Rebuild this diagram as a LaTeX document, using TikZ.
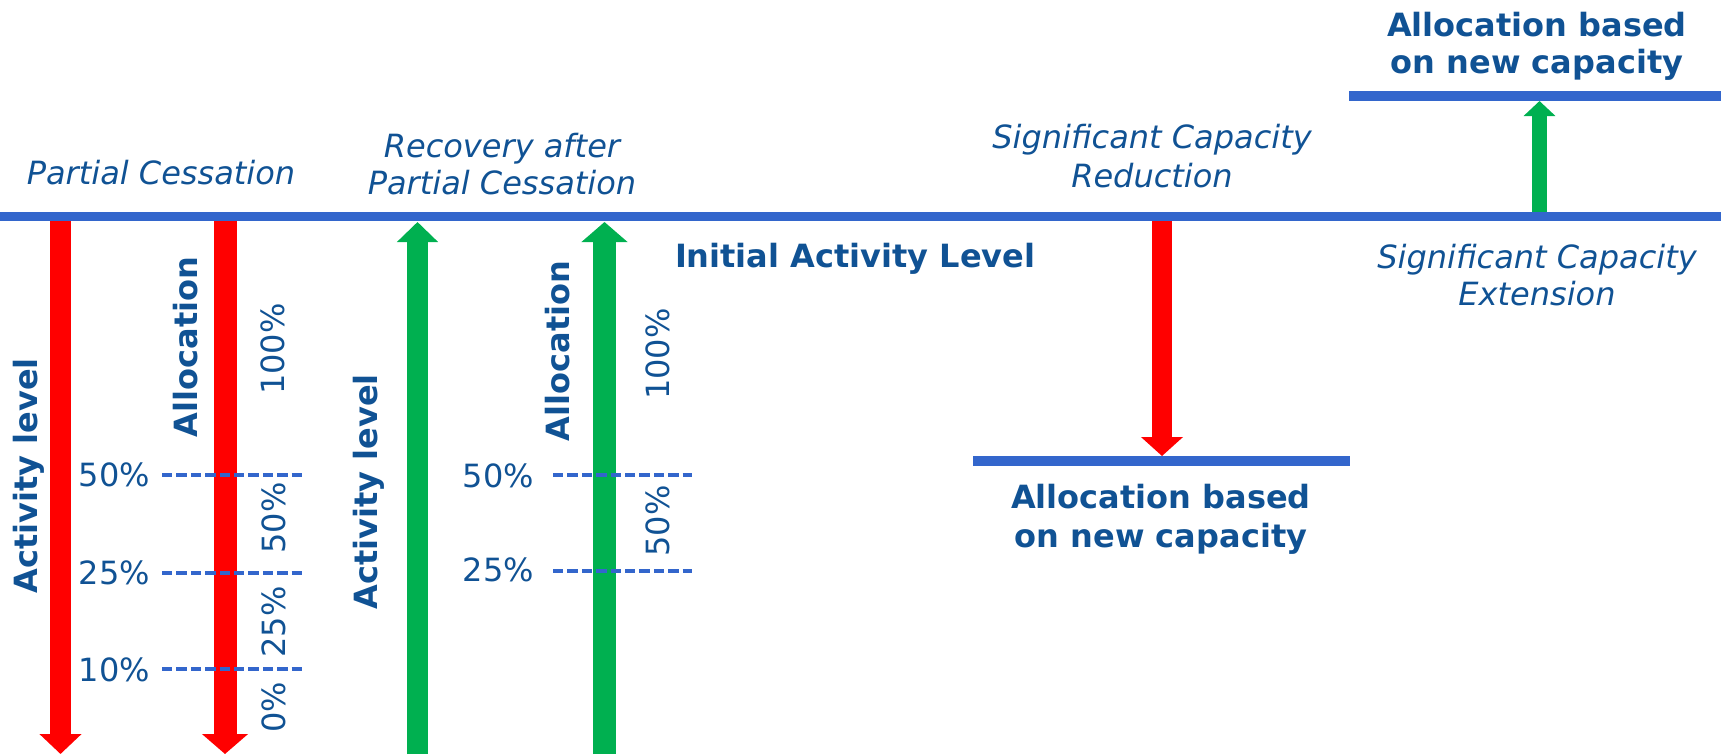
\documentclass[tikz,border=0pt]{standalone}
\usepackage{fontspec}
\setmainfont{DejaVu Sans}
\usetikzlibrary{arrows.meta}
\definecolor{txtblue}{RGB}{16,82,148}
\definecolor{lineblue}{RGB}{51,102,204}
\definecolor{arrred}{RGB}{255,0,0}
\definecolor{arrgreen}{RGB}{0,176,80}
\tikzset{
  txt/.style={inner sep=0pt, outer sep=0pt, text=txtblue, font=\fontsize{24}{28}\selectfont},
  ital/.style={txt, font=\fontsize{24}{28}\selectfont\itshape, align=center, anchor=base},
  bold/.style={txt, font=\fontsize{24}{28}\selectfont\bfseries, align=center, anchor=base},
  vbold/.style={bold, rotate=90, anchor=base},
  vpct/.style={txt, rotate=90, anchor=base},
  pct/.style={txt, anchor=base east},
  level/.style={draw=lineblue, line width=7pt},
  dashline/.style={draw=lineblue, line width=3pt, dash pattern=on 7.8pt off 3pt},
  redA/.style={draw=arrred, line width=15.75pt, -{Triangle[width=30.75pt,length=15pt]}, arrred},
  redB/.style={draw=arrred, line width=17.25pt, -{Triangle[width=33.75pt,length=15pt]}, arrred},
  greenA/.style={draw=arrgreen, line width=15.75pt, -{Triangle[width=30pt,length=15pt]}, arrgreen},
  greenB/.style={draw=arrgreen, line width=17.25pt, -{Triangle[width=33.75pt,length=15pt]}, arrgreen},
  redC/.style={draw=arrred, line width=15pt, -{Triangle[width=30.75pt,length=14.25pt]}, arrred},
  greenC/.style={draw=arrgreen, line width=11.25pt, -{Triangle[width=23.25pt,length=11.25pt]}, arrgreen},
}
\begin{document}
\begin{tikzpicture}[x=0.75pt,y=-0.75pt]
\useasboundingbox (0,0) rectangle (1721,754);

% level lines
\coordinate (mainL) at (0,216.5);
\coordinate (mainR) at (1721,216.5);
\coordinate (lowL) at (973,461);
\coordinate (lowR) at (1350,461);
\coordinate (upL) at (1349,96);
\coordinate (upR) at (1721,96);

% dashed line ends
\coordinate (d1L) at (162,475);  \coordinate (d1R) at (302,475);
\coordinate (d2L) at (162,573);  \coordinate (d2R) at (302,573);
\coordinate (d3L) at (162,669);  \coordinate (d3R) at (302,669);
\coordinate (d4L) at (553,475);  \coordinate (d4R) at (692,475);
\coordinate (d5L) at (553,571);  \coordinate (d5R) at (692,571);

% arrows
\coordinate (r1s) at (60.5,221);   \coordinate (r1e) at (60.5,754);
\coordinate (r2s) at (225,221);    \coordinate (r2e) at (225,754);
\coordinate (g1s) at (417.5,754);  \coordinate (g1e) at (417.5,222);
\coordinate (g2s) at (604.5,754);  \coordinate (g2e) at (604.5,222);
\coordinate (r3s) at (1162,221);   \coordinate (r3e) at (1162,456);
\coordinate (g3s) at (1539.5,212); \coordinate (g3e) at (1539.5,101);

\draw[redA] (r1s) -- (r1e);
\draw[redB] (r2s) -- (r2e);
\draw[greenA] (g1s) -- (g1e);
\draw[greenB] (g2s) -- (g2e);
\draw[redC] (r3s) -- (r3e);
\draw[greenC] (g3s) -- (g3e);

\draw[dashline] (d1L) -- (d1R);
\draw[dashline] (d2L) -- (d2R);
\draw[dashline] (d3L) -- (d3R);
\draw[dashline] (d4L) -- (d4R);
\draw[dashline] (d5L) -- (d5R);

\draw[level] (mainL) -- (mainR);
\draw[level] (lowL) -- (lowR);
\draw[level] (upL) -- (upR);

% titles
\node[ital] (tPC) at (161,184) {Partial Cessation};
\node[ital] (tRec1) at (502,157) {Recovery after};
\node[ital] (tRec2) at (502,194) {Partial Cessation};
\node[ital] (tRed1) at (1152,148) {Significant Capacity};
\node[ital] (tRed2) at (1152,187) {Reduction};
\node[ital] (tExt1) at (1537,268) {Significant Capacity};
\node[ital] (tExt2) at (1537,305) {Extension};
\node[bold, anchor=base west] (tInit) at (675,267) {Initial Activity Level};
\node[bold] (tLow1) at (1161,508) {Allocation based};
\node[bold] (tLow2) at (1161,547) {on new capacity};
\node[bold] (tUp1) at (1537,36) {Allocation based};
\node[bold] (tUp2) at (1537,73) {on new capacity};

% rotated labels, partial cessation
\node[vbold] (pcAct) at (37.5,476) {Activity level};
\node[vbold] (pcAll) at (197.5,347) {Allocation};
\node[vpct] (pc100) at (284.5,349) {100\%};
\node[vpct] (pc50) at (285,518) {50\%};
\node[vpct] (pc25) at (285,622) {25\%};
\node[vpct] (pc0) at (285,707) {0\%};
\node[pct] (pcL50) at (150,486) {50\%};
\node[pct] (pcL25) at (150,584) {25\%};
\node[pct] (pcL10) at (150,681) {10\%};

% rotated labels, recovery
\node[vbold] (rcAct) at (377,492) {Activity level};
\node[vbold] (rcAll) at (569,351) {Allocation};
\node[vpct] (rc100) at (669,354) {100\%};
\node[vpct] (rc50) at (669,521) {50\%};
\node[pct] (rcL50) at (534,487) {50\%};
\node[pct] (rcL25) at (534,581) {25\%};
\end{tikzpicture}
\end{document}
